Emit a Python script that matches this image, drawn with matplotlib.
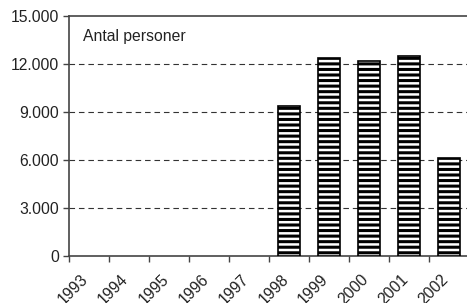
import matplotlib
matplotlib.use("Agg")
import matplotlib.pyplot as plt
import matplotlib.transforms as mtransforms
import numpy as np

years = ["1993", "1994", "1995", "1996", "1997", "1998", "1999", "2000", "2001", "2002"]
persons = [np.nan, np.nan, np.nan, np.nan, np.nan, 9400, 12400, 12200, 12500, 6100]
yticks = [0, 3000, 6000, 9000, 12000, 15000]
ytick_labels = ["0", "3.000", "6.000", "9.000", "12.000", "15.000"]
title_text = "Antal personer"

plt.rcParams['font.family'] = ['Liberation Sans', 'DejaVu Sans']
plt.rcParams['hatch.linewidth'] = 2.2

fs = 11.3
fig = plt.figure(figsize=(4.67, 3.03), dpi=100)
ax = fig.add_axes([69/467, 47/303, 400/467, 240/303])

x = np.arange(len(years))
ax.bar(x, persons, width=0.53, color='white', edgecolor='black', hatch='---', linewidth=1.2, zorder=3)

ax.set_xlim(-0.5, len(years) - 0.5)
ax.set_ylim(0, 15000)
ax.set_yticks(yticks)
ax.set_yticklabels(ytick_labels, fontsize=fs, color='#222222')
for yv in yticks[1:-1]:
    ax.axhline(yv, color='#333333', linewidth=0.8, dashes=(5, 3.5), zorder=1)

ax.set_xticks(np.arange(len(years) + 1) - 0.5, minor=False)
ax.set_xticklabels([])
ax.set_xticks(x, minor=True)
ax.set_xticklabels(years, minor=True, rotation=45, ha='right', va='center',
                   rotation_mode='anchor', fontsize=fs, color='#222222')
ax.tick_params(axis='x', which='minor', length=0, pad=15)
ax.tick_params(axis='x', which='major', length=4, width=1, color='#444444', direction='out')
ax.tick_params(axis='y', length=4, width=1, color='#444444', direction='out', pad=3)
offset = mtransforms.ScaledTranslation(-3/100, 0, fig.dpi_scale_trans)
for lab in ax.get_xticklabels(minor=True):
    lab.set_transform(lab.get_transform() + offset)

for s in ['right']:
    ax.spines[s].set_visible(False)
for s in ['left', 'bottom', 'top']:
    ax.spines[s].set_color('#444444')
    ax.spines[s].set_linewidth(1.2)

ax.text(14/400, 1 - 20/240, title_text, transform=ax.transAxes, fontsize=fs, color='#222222',
        ha='left', va='center')

fig.savefig("out.png", dpi=100)
